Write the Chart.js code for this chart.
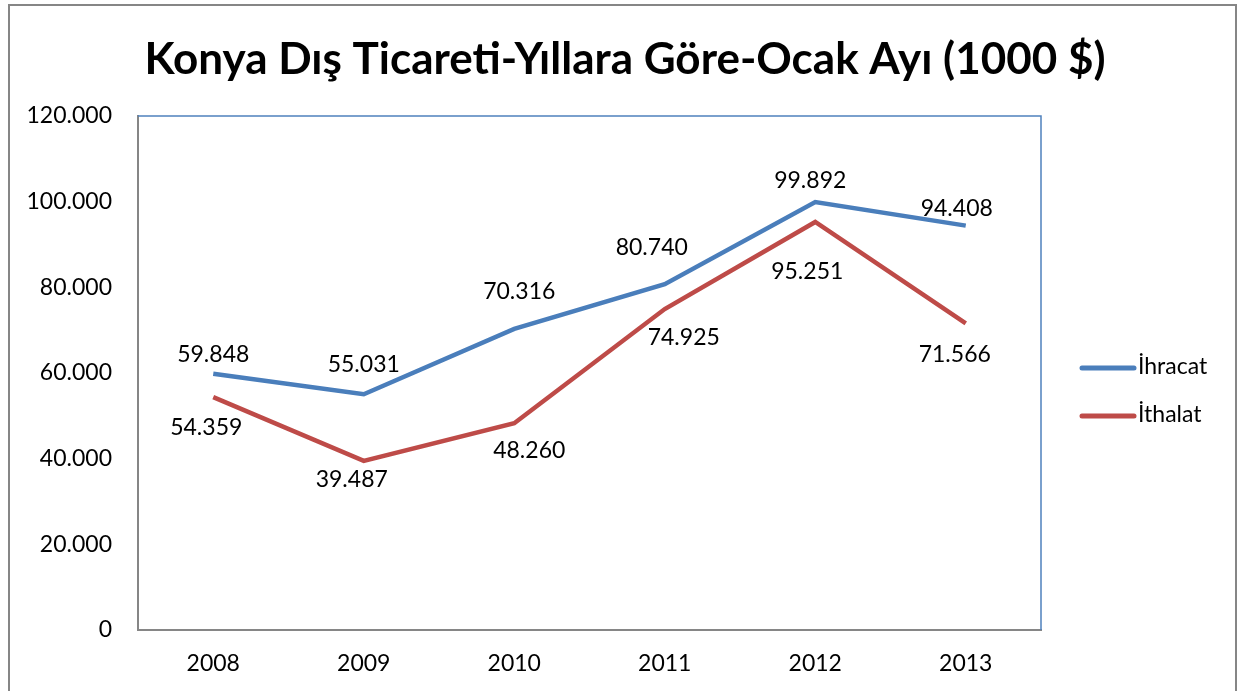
<!DOCTYPE html>
<html>
<head>
<meta charset="utf-8">
<script src="https://cdn.jsdelivr.net/npm/chart.js@4.4.0/dist/chart.umd.min.js"></script>
<style>
  html, body { margin: 0; padding: 0; background: #fff; }
  #wrap { width: 1243px; height: 691px; }
</style>
</head>
<body>
<div id="wrap"><canvas id="tradeChart"></canvas></div>
<script>
// chart values
const years = ['2008', '2009', '2010', '2011', '2012', '2013'];
const ihracat = [59848, 55031, 70316, 80740, 99892, 94408];
const ithalat = [54359, 39487, 48260, 74925, 95251, 71566];
const yTicks = [0, 20000, 40000, 60000, 80000, 100000, 120000];

const titleText = 'Konya Dış Ticareti-Yıllara Göre-Ocak Ayı (1000 $)';
const FONT = 'Lato, "Open Sans", sans-serif';
const BLUE = '#4A7EBB';
const RED = '#BE4B48';

// where each value label sits relative to its point (px)
const blueLabelOffset = [[0, -19], [0, -30], [5, -37], [-13, -37], [-5, -22], [-9, -17]];
const redLabelOffset = [[-7, 30], [-12, 19], [15, 27], [19, 29], [-8, 50], [-11, 31]];

function fmt(v) {
  return String(v).replace(/\B(?=(\d{3})+(?!\d))/g, '.');
}

const decorPlugin = {
  id: 'decor',
  beforeDraw(chart) {
    const c = chart.ctx;
    c.save();
    c.fillStyle = '#fff';
    c.fillRect(0, 0, chart.width, chart.height);
    c.strokeStyle = '#868686';
    c.lineWidth = 2;
    c.strokeRect(9, 5, 1227, 700);
    c.restore();
  },
  afterDraw(chart) {
    const c = chart.ctx;
    const area = chart.chartArea;
    c.save();
    // plot area top/right border
    c.strokeStyle = '#4F81BD';
    c.lineWidth = 1.5;
    c.beginPath();
    c.moveTo(area.left, area.top);
    c.lineTo(area.right, area.top);
    c.lineTo(area.right, area.bottom);
    c.stroke();

    // title
    c.fillStyle = '#000';
    c.font = 'bold 44px ' + FONT;
    c.textAlign = 'center';
    c.textBaseline = 'middle';
    c.fillText(titleText, 625, 60);

    // value labels
    c.font = '23px ' + FONT;
    const sets = [[0, blueLabelOffset], [1, redLabelOffset]];
    sets.forEach(([di, offs]) => {
      const meta = chart.getDatasetMeta(di);
      const data = chart.data.datasets[di].data;
      meta.data.forEach((pt, i) => {
        c.fillText(fmt(data[i]), pt.x + offs[i][0], pt.y + offs[i][1]);
      });
    });

    // legend
    const items = [['İhracat', BLUE, 368], ['İthalat', RED, 416]];
    items.forEach(([label, col, y]) => {
      c.strokeStyle = col;
      c.lineWidth = 5;
      c.lineCap = 'round';
      c.beginPath();
      c.moveTo(1082, y);
      c.lineTo(1134, y);
      c.stroke();
      c.textAlign = 'left';
      c.fillStyle = '#000';
      c.fillText(label, 1138, y - 1);
    });
    c.restore();
  }
};

const ctx = document.getElementById('tradeChart').getContext('2d');
new Chart(ctx, {
  type: 'line',
  data: {
    labels: years,
    datasets: [
      { label: 'İhracat', data: ihracat, borderColor: BLUE, borderWidth: 4.5, pointRadius: 0, tension: 0, fill: false },
      { label: 'İthalat', data: ithalat, borderColor: RED, borderWidth: 4.5, pointRadius: 0, tension: 0, fill: false }
    ]
  },
  options: {
    responsive: true,
    maintainAspectRatio: false,
    animation: false,
    layout: { padding: { left: 0, top: 116, right: 202, bottom: 0 } },
    plugins: { legend: { display: false }, title: { display: false }, tooltip: { enabled: false } },
    scales: {
      x: {
        offset: true,
        grid: { display: false },
        border: { color: '#868686', width: 2 },
        ticks: { color: '#000', font: { family: FONT, size: 23 }, padding: 12 },
        afterFit: (s) => { s.height = 61; }
      },
      y: {
        min: 0,
        max: 120000,
        afterBuildTicks: (s) => { s.ticks = yTicks.map(v => ({ value: v })); },
        grid: { display: false },
        border: { color: '#868686', width: 2 },
        ticks: { color: '#000', font: { family: FONT, size: 23 }, padding: 18, callback: (v) => fmt(v) },
        afterFit: (s) => { s.width = 138; }
      }
    }
  },
  plugins: [decorPlugin]
});
</script>
</body>
</html>
